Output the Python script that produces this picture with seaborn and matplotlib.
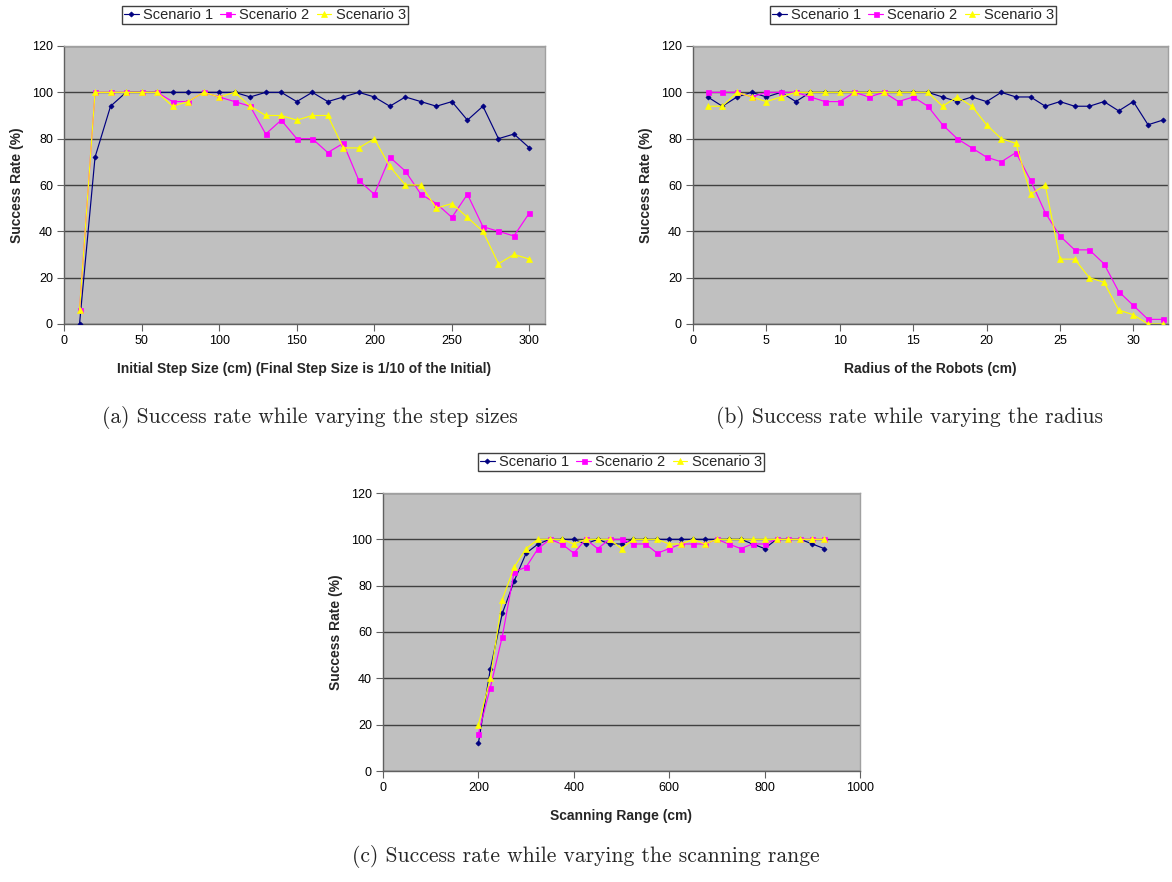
import numpy as np
import pandas as pd
import matplotlib
matplotlib.use("Agg")
import matplotlib.pyplot as plt
import seaborn as sns

# ---------------- data ----------------
series_names = ["Scenario 1", "Scenario 2", "Scenario 3"]

step_x = list(range(10, 301, 10))
step_s1 = [0, 72, 94, 100, 100, 100, 100, 100, 100, 100, 100, 98, 100, 100, 96,
           100, 96, 98, 100, 98, 94, 98, 96, 94, 96, 88, 94, 80, 82, 76]
step_s2 = [6, 100, 100, 100, 100, 100, 96, 96, 100, 98, 96, 94, 82, 88, 80,
           80, 74, 78, 62, 56, 72, 66, 56, 52, 46, 56, 42, 40, 38, 48]
step_s3 = [6, 100, 100, 100, 100, 100, 94, 96, 100, 98, 100, 94, 90, 90, 88,
           90, 90, 76, 76, 80, 68, 60, 60, 50, 52, 46, 40, 26, 30, 28]

radius_x = list(range(1, 33))
radius_s1 = [98, 94, 98, 100, 98, 100, 96, 100, 100, 100, 100, 100, 100, 100, 100, 100,
             98, 96, 98, 96, 100, 98, 98, 94, 96, 94, 94, 96, 92, 96, 86, 88]
radius_s2 = [100, 100, 100, 98, 100, 100, 100, 98, 96, 96, 100, 98, 100, 96, 98, 94,
             86, 80, 76, 72, 70, 74, 62, 48, 38, 32, 32, 26, 14, 8, 2, 2]
radius_s3 = [94, 94, 100, 98, 96, 98, 100, 100, 100, 100, 100, 100, 100, 100, 100, 100,
             94, 98, 94, 86, 80, 78, 56, 60, 28, 28, 20, 18, 6, 4, 0, 0]

scan_x = list(range(200, 926, 25))
scan_s1 = [12, 44, 68, 82, 94, 98, 100, 100, 100, 98, 100, 98, 98, 100, 100,
           100, 100, 100, 100, 100, 100, 100, 100, 98, 96, 100, 100, 100, 98, 96]
scan_s2 = [16, 36, 58, 86, 88, 96, 100, 98, 94, 100, 96, 100, 100, 98, 98,
           94, 96, 98, 98, 98, 100, 98, 96, 98, 98, 100, 100, 100, 100, 100]
scan_s3 = [20, 40, 74, 88, 96, 100, 100, 100, 98, 100, 100, 100, 96, 100, 100,
           100, 98, 98, 100, 98, 100, 100, 100, 100, 100, 100, 100, 100, 100, 100]

xlabels = ["Initial Step Size (cm) (Final Step Size is 1/10 of the Initial)",
           "Radius of the Robots (cm)",
           "Scanning Range (cm)"]
captions = ["(a) Success rate while varying the step sizes",
            "(b) Success rate while varying the radius",
            "(c) Success rate while varying the scanning range"]
ylabel = "Success Rate (%)"


def long_df(x, s1, s2, s3):
    frames = []
    for name, vals in zip(series_names, [s1, s2, s3]):
        frames.append(pd.DataFrame({"x": x, "y": vals, "Scenario": name}))
    return pd.concat(frames, ignore_index=True)


# ---------------- style ----------------
sns.set_theme(style="white")
plt.rcParams["font.family"] = ["Liberation Sans", "DejaVu Sans"]

palette = {"Scenario 1": "#000080", "Scenario 2": "#FF00FF", "Scenario 3": "#FFFF00"}
markers = {"Scenario 1": "D", "Scenario 2": "s", "Scenario 3": "^"}
msizes = {"Scenario 1": 2.6, "Scenario 2": 3.6, "Scenario 3": 4.0}

fig = plt.figure(figsize=(11.72, 8.82), dpi=100)
W, H = 1172.0, 882.0


def px_axes(l, t, r, b):
    return fig.add_axes([l / W, 1 - b / H, (r - l) / W, (b - t) / H])


panels = [
    dict(box=(64, 46, 545, 324), df=long_df(step_x, step_s1, step_s2, step_s3),
         xlim=(0, 310), xticks=[0, 50, 100, 150, 200, 250, 300],
         legend=(265, 15), caption=(310, 418)),
    dict(box=(693, 46, 1168, 324), df=long_df(radius_x, radius_s1, radius_s2, radius_s3),
         xlim=(0, 32.36), xticks=[0, 5, 10, 15, 20, 25, 30],
         legend=(913, 15), caption=(909, 418)),
    dict(box=(383, 493, 860, 771), df=long_df(scan_x, scan_s1, scan_s2, scan_s3),
         xlim=(0, 1000), xticks=[0, 200, 400, 600, 800, 1000],
         legend=(621, 462), caption=(586, 857)),
]

for i, p in enumerate(panels):
    ax = px_axes(*p["box"])
    ax.set_facecolor("#C0C0C0")
    for name in series_names:
        sub = p["df"][p["df"]["Scenario"] == name]
        sns.lineplot(data=sub, x="x", y="y", ax=ax, color=palette[name],
                     marker=markers[name], markersize=msizes[name],
                     markeredgecolor=palette[name], markeredgewidth=0.5,
                     linewidth=0.85, label=name, legend=False, zorder=3,
                     estimator=None, sort=False)
    ax.set_xlim(*p["xlim"])
    ax.set_ylim(0, 120)
    ax.set_xticks(p["xticks"])
    ax.set_yticks(range(0, 121, 20))
    ax.yaxis.grid(True, color="#404040", linewidth=1.0, zorder=0)
    ax.xaxis.grid(False)
    ax.set_axisbelow(True)
    for side in ["left", "bottom"]:
        ax.spines[side].set_color("#606060")
        ax.spines[side].set_linewidth(1.0)
    for side in ["top", "right"]:
        ax.spines[side].set_color("#A0A0A0")
        ax.spines[side].set_linewidth(1.0)
    ax.tick_params(axis="both", direction="out", length=5, width=0.8,
                   color="#606060", labelsize=9, labelcolor="black",
                   bottom=True, left=True, pad=3)
    ax.set_xlabel(xlabels[i], fontsize=10, fontweight="bold", labelpad=11)
    ax.set_ylabel(ylabel, fontsize=10, fontweight="bold", labelpad=6)

    handles, labels = ax.get_legend_handles_labels()
    lx, ly = p["legend"]
    fig.legend(handles, labels, loc="center", bbox_to_anchor=(lx / W, 1 - ly / H),
               ncol=3, frameon=True, fancybox=False, edgecolor="#404040",
               framealpha=1, fontsize=10.5, handlelength=1.0, handletextpad=0.3,
               columnspacing=0.5, borderpad=0.15, borderaxespad=0)

    cx, cy = p["caption"]
    fig.text(cx / W, 1 - cy / H, captions[i], ha="center", va="center",
             fontsize=15.5, family=["cmr10", "DejaVu Serif"])

fig.savefig("out.png", dpi=100, facecolor="white")
